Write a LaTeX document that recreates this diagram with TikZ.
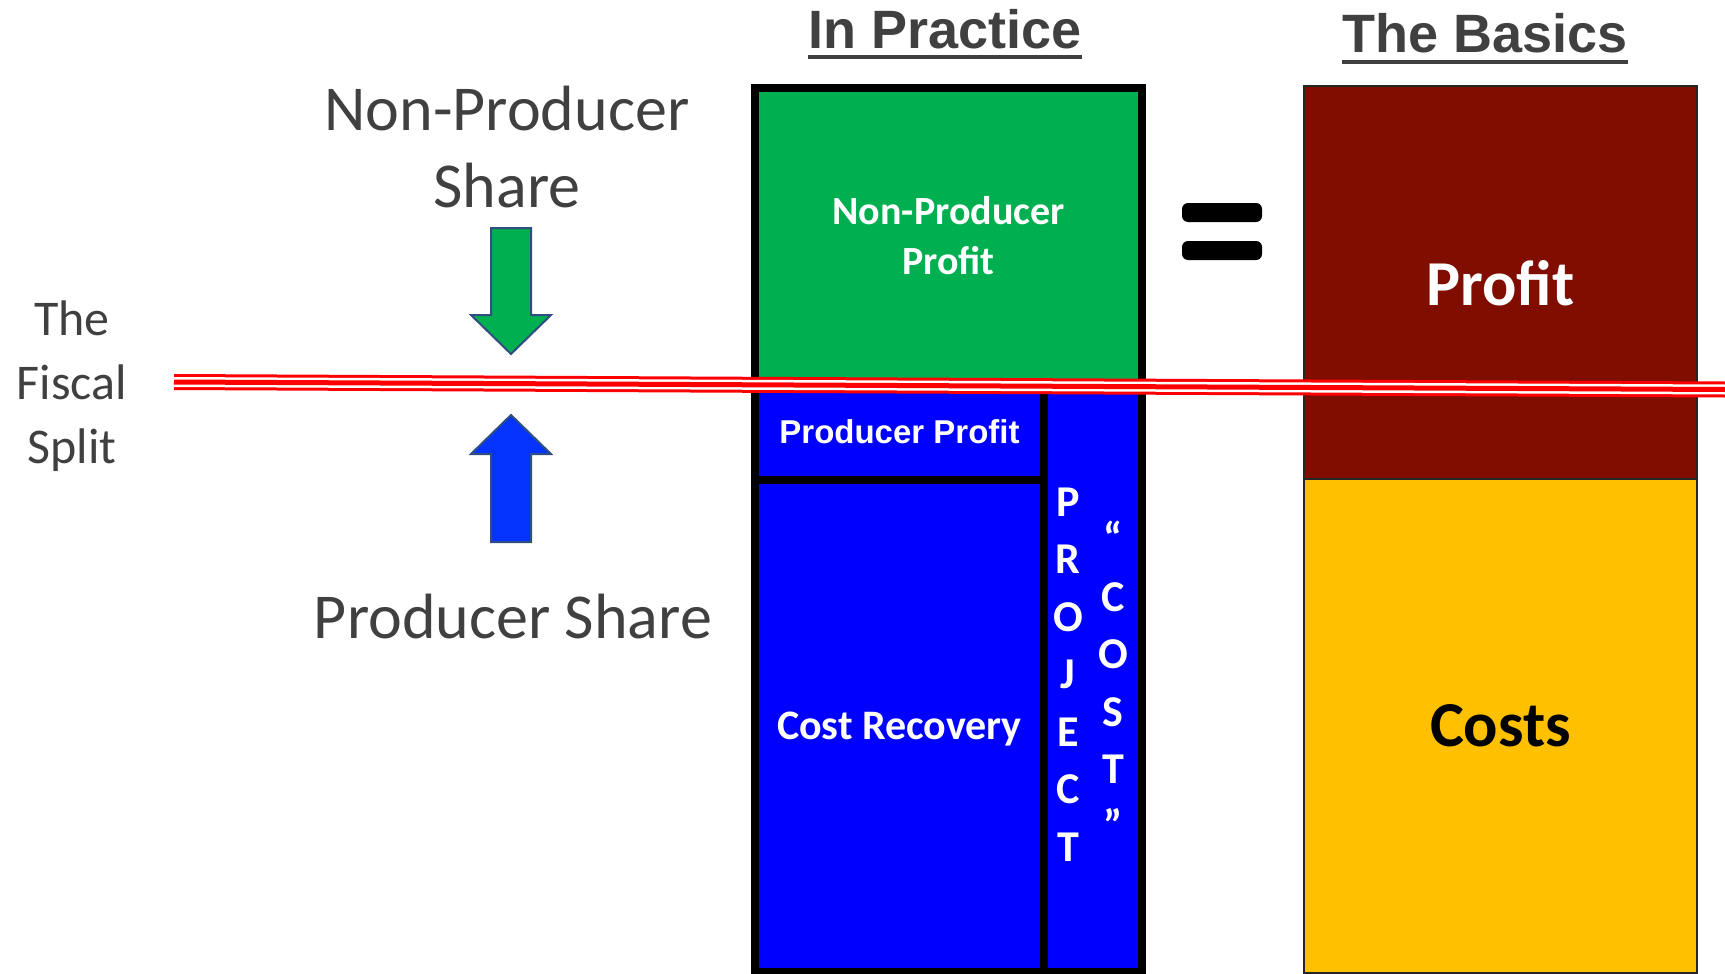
\documentclass[tikz,border=0pt]{standalone}
\usepackage{fontspec}
\setmainfont{Carlito}
\newfontfamily\arialfont{Liberation Sans}
\usepackage{tikz}
\usetikzlibrary{positioning}

\definecolor{npgreen}{HTML}{00B050}
\definecolor{prodblue}{HTML}{0000FF}
\definecolor{arrowblue}{HTML}{0433FF}
\definecolor{arrowline}{HTML}{2F4F80}
\definecolor{profitred}{HTML}{800E00}
\definecolor{costyellow}{HTML}{FFC000}
\definecolor{labelgrey}{HTML}{404040}
\definecolor{splitred}{HTML}{FF0000}

\begin{document}
\begin{tikzpicture}[
        x=1pt, y=-1pt,
        heading/.style={font=\arialfont\bfseries\fontsize{54}{60}\selectfont,
            text=labelgrey, inner sep=0pt, anchor=base},
        side/.style={font=\fontsize{64}{77}\selectfont, text=labelgrey,
            align=center, inner sep=0pt},
        cell/.style={draw, line width=8pt, anchor=north west, inner sep=0pt,
            outer sep=0pt, text=white, align=center},
        basic/.style={draw=black!85, line width=1.5pt, anchor=north west,
            inner sep=0pt, outer sep=0pt, minimum width=393pt,
            font=\bfseries\fontsize{64}{70}\selectfont},
        letters/.style={text=white, align=center, inner sep=0pt,
            font=\bfseries\fontsize{44}{57.5}\selectfont},
        bigarrow/.style={draw=arrowline, line width=2pt, line join=miter},
    ]
        \useasboundingbox (0,0) rectangle (1725,974);

        % headings
        \node[heading] (practice) at (945,49) {In Practice};
        \draw[labelgrey, line width=4pt] ([yshift=-8pt]practice.base west) -- ([yshift=-8pt]practice.base east);
        \node[heading] (basics) at (1485,53) {The Basics};
        \draw[labelgrey, line width=4pt] ([yshift=-9pt]basics.base west) -- ([yshift=-9pt]basics.base east);

        % in practice column
        \node[cell, fill=npgreen, minimum width=387pt, minimum height=295pt,
            font=\bfseries\fontsize{40}{50}\selectfont] (nonprod) at (755,88) {Non-Producer\\Profit};
        \node[cell, fill=prodblue, minimum width=289pt, minimum height=97pt,
            font=\arialfont\bfseries\fontsize{33}{40}\selectfont] (prodprofit) at (755,383) {Producer Profit};
        \node[cell, fill=prodblue, minimum width=289pt, minimum height=492pt, text depth=0pt,
            font=\bfseries\fontsize{42}{50}\selectfont] (recovery) at (755,480) {Cost Recovery};
        \node[cell, fill=prodblue, minimum width=98pt, minimum height=589pt] (projcol) at (1044,383) {};
        \node[letters] (project) at (1068,674.5) {P\\R\\O\\J\\E\\C\\T};
        \node[letters] (cost) at (1113,681) {“\\C\\O\\S\\T\\”};

        % equals sign
        \fill[rounded corners=6pt] (1182,203) rectangle (1262,222);
        \fill[rounded corners=6pt] (1182,241) rectangle (1262,260);

        % the basics column
        \node[basic, fill=profitred, text=white, minimum height=393pt, text depth=0pt] (profit) at (1304,86) {Profit};
        \node[basic, fill=costyellow, text=black, minimum height=494pt, text depth=0pt] (costs) at (1304,479) {Costs};

        % side labels and arrows
        \node[side] (npshare) at (507,147) {Non-Producer\\Share};
        \node[side, anchor=base] (pshare) at (513,638) {Producer Share};
        \node[side, font=\fontsize{50}{64}\selectfont] (fiscal) at (72,386) {The\\Fiscal\\Split};
        \draw[bigarrow, fill=npgreen] (491,228) -- (531,228) -- (531,315) -- (551,315)
            -- (511,354) -- (471,315) -- (491,315) -- cycle;
        \draw[bigarrow, fill=arrowblue] (491,542) -- (531,542) -- (531,454) -- (551,454)
            -- (511,415) -- (471,454) -- (491,454) -- cycle;

        % fiscal split line
        \coordinate (splitL) at (174,382);
        \coordinate (splitR) at (1725,389.5);
        \draw[splitred, line width=16pt] (splitL) -- (splitR);
        \draw[white, line width=10pt] (splitL) -- (splitR);
        \draw[splitred, line width=5pt] (splitL) -- (splitR);
    \end{tikzpicture}
\end{document}
